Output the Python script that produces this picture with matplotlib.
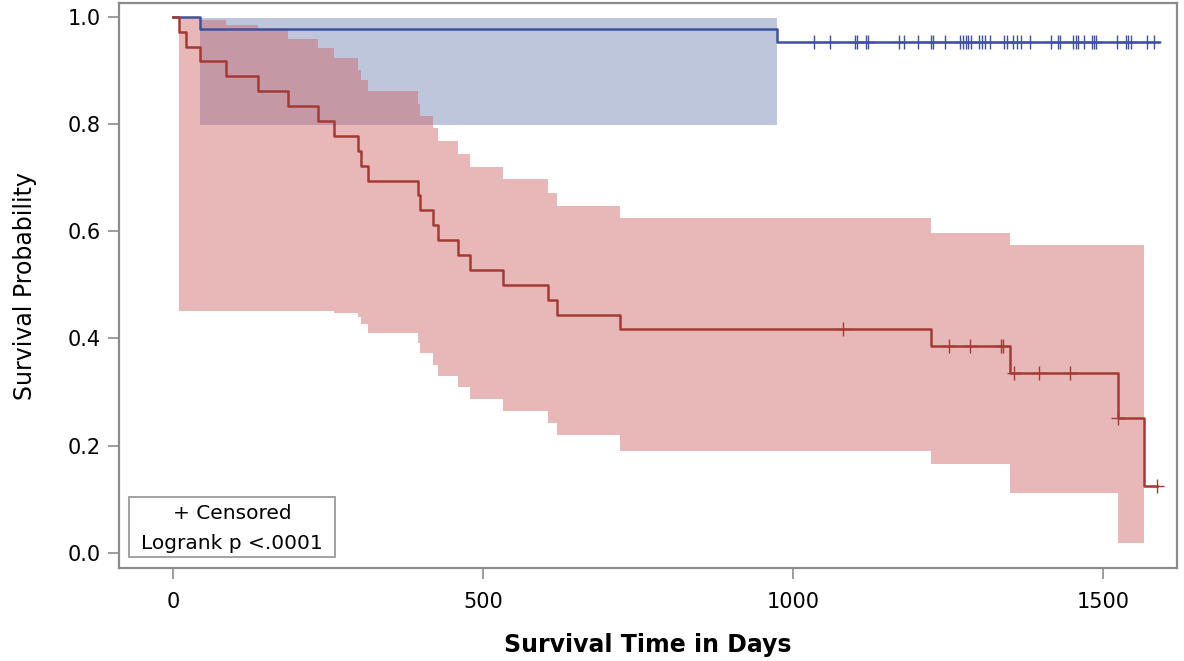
import numpy as np
import matplotlib
matplotlib.use("Agg")
import matplotlib.pyplot as plt
from matplotlib.patches import Rectangle

plt.rcParams['font.family'] = ['DejaVu Sans']

# group 1 (red): event times and Kaplan-Meier estimates
red_t = [0, 9, 21, 43, 85, 137, 185, 234, 259, 299, 303, 314, 395, 398, 420, 427,
         460, 479, 532, 605, 619, 721, 1223, 1350, 1524, 1566]
red_s = [1.0, 0.972, 0.944, 0.917, 0.889, 0.861, 0.833, 0.806, 0.778, 0.75, 0.722,
         0.694, 0.667, 0.639, 0.611, 0.583, 0.556, 0.528, 0.5, 0.472, 0.444, 0.417,
         0.386, 0.336, 0.252, 0.124]
red_end = 1586
red_cens = [1081, 1252, 1285, 1335, 1338, 1356, 1397, 1447, 1524, 1586]

# red confidence band (per interval starting at red_band_t)
red_band_t = [9, 21, 43, 85, 137, 185, 234, 259, 299, 303, 314, 395, 398, 420, 427,
              460, 479, 532, 605, 619, 721, 1223, 1350, 1524]
red_band_end = 1566
red_hi = [1.0, 1.0, 0.994, 0.985, 0.976, 0.959, 0.942, 0.923, 0.901, 0.882, 0.861,
          0.837, 0.815, 0.792, 0.769, 0.744, 0.721, 0.697, 0.672, 0.647, 0.624,
          0.597, 0.575, 0.575]
red_lo = [0.452, 0.452, 0.452, 0.452, 0.452, 0.452, 0.452, 0.448, 0.44, 0.427, 0.41,
          0.391, 0.373, 0.351, 0.33, 0.309, 0.287, 0.264, 0.242, 0.219, 0.19,
          0.165, 0.111, 0.018]

# group 2 (blue)
blue_t = [0, 44, 974]
blue_s = [1.0, 0.977, 0.954]
blue_end = 1590
blue_band_t = [44]
blue_band_end = 974
blue_hi = [0.999]
blue_lo = [0.798]
blue_cens = [1034, 1060, 1100, 1103, 1118, 1121, 1171, 1179, 1202, 1223, 1226, 1245,
             1269, 1274, 1279, 1282, 1287, 1300, 1305, 1310, 1318, 1340, 1345, 1355,
             1361, 1368, 1382, 1416, 1427, 1431, 1452, 1456, 1460, 1469, 1482, 1485,
             1489, 1523, 1537, 1540, 1544, 1571, 1582]

RED = '#a33a33'
BLUE = '#3f519c'
RED_BAND = (205/255, 98/255, 100/255)
BLUE_BAND = (114/255, 131/255, 177/255)
FRAME = '#8c8c8c'


def km_at(times, surv, x):
    idx = np.searchsorted(times, x, side='right') - 1
    return np.asarray(surv)[idx]


def draw_group(ax, t, s, end, bt, bend, hi, lo, cens, col, bcol):
    bx = list(bt) + [bend]
    ax.fill_between(bx, list(lo) + [lo[-1]], list(hi) + [hi[-1]], step='post',
                    color=bcol, alpha=0.46, lw=0)
    ax.step(list(t) + [end], list(s) + [s[-1]], where='post', color=col, lw=1.8)
    ax.plot(cens, km_at(t, s, cens), ls='none', marker='+', ms=10, mew=1.0, color=col)


fig = plt.figure(figsize=(11.84, 6.61), dpi=100)
ax = fig.add_axes([0.1005, 0.1402, 0.8936, 0.8548])

draw_group(ax, blue_t, blue_s, blue_end, blue_band_t, blue_band_end, blue_hi, blue_lo,
           blue_cens, BLUE, BLUE_BAND)
draw_group(ax, red_t, red_s, red_end, red_band_t, red_band_end, red_hi, red_lo,
           red_cens, RED, RED_BAND)

ax.set_xlim(-87, 1619)
ax.set_ylim(-0.029, 1.0256)
ax.set_xticks([0, 500, 1000, 1500])
ax.set_yticks([0.0, 0.2, 0.4, 0.6, 0.8, 1.0])
ax.set_yticklabels(['0.0', '0.2', '0.4', '0.6', '0.8', '1.0'])

for sp in ax.spines.values():
    sp.set_color(FRAME)
    sp.set_linewidth(1.6)
ax.tick_params(axis='both', direction='out', length=8, width=1.2, color=FRAME,
               labelsize=15, labelcolor='black')
ax.tick_params(axis='x', pad=9)
ax.tick_params(axis='y', pad=5)

ax.set_xlabel('Survival Time in Days', fontsize=17, fontweight='bold', labelpad=15)
ax.set_ylabel('Survival Probability', fontsize=17, labelpad=22)

# inset box with censor note and test result
ax.add_patch(Rectangle((0.0097, 0.0195), 0.1943, 0.1062, transform=ax.transAxes,
                       fc='white', ec='#9a9a9a', lw=1.3, zorder=5))
ax.text(0.107, 0.0979, '+ Censored', transform=ax.transAxes, ha='center',
        va='center', fontsize=14.5, zorder=6)
ax.text(0.107, 0.0448, 'Logrank p <.0001', transform=ax.transAxes, ha='center',
        va='center', fontsize=14.5, zorder=6)

fig.savefig('out.png', dpi=100)
